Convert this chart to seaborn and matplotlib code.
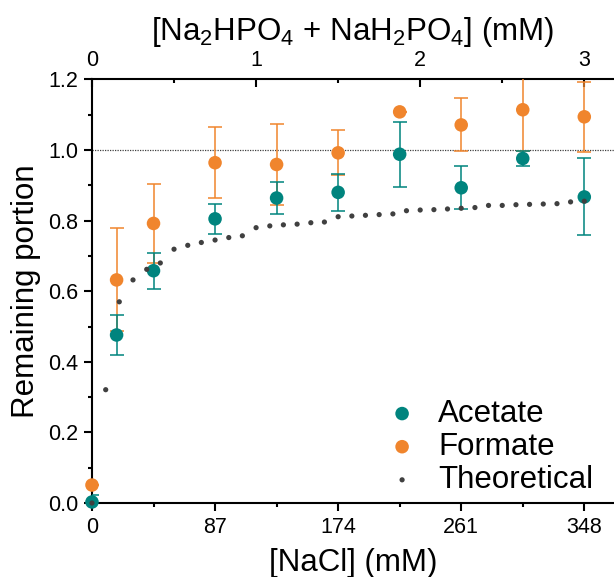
import numpy as np
import pandas as pd
import matplotlib
matplotlib.use("Agg")
import matplotlib.pyplot as plt
import seaborn as sns

# data
nacl = [0, 17.4, 43.5, 87, 130.5, 174, 217.5, 261, 304.5, 348]
acetate = [0.003, 0.476, 0.658, 0.805, 0.864, 0.880, 0.988, 0.893, 0.976, 0.867]
acetate_err = [0.02, 0.057, 0.051, 0.042, 0.044, 0.052, 0.092, 0.061, 0.02, 0.109]
formate = [0.051, 0.632, 0.792, 0.964, 0.959, 0.992, 1.108, 1.071, 1.114, 1.094]
formate_err = [0.0, 0.146, 0.113, 0.10, 0.115, 0.064, 0.0, 0.075, 0.117, 0.10]

theo_nacl = [0, 9.7, 19.3, 29.0, 38.7, 48.3, 58.0, 67.7, 77.3, 87.0, 96.7, 106.3,
             116.0, 125.7, 135.3, 145.0, 154.7, 164.3, 174.0, 183.7, 193.3, 203.0,
             212.7, 222.3, 232.0, 241.7, 251.3, 261.0, 270.7, 280.3, 290.0, 299.7,
             309.3, 319.0, 328.7, 338.3, 348.0]
theo = [0.0, 0.321, 0.570, 0.632, 0.662, 0.680, 0.719, 0.730, 0.738, 0.745,
        0.752, 0.757, 0.780, 0.785, 0.788, 0.790, 0.794, 0.796, 0.811, 0.813,
        0.815, 0.817, 0.819, 0.828, 0.830, 0.831, 0.833, 0.835, 0.837, 0.843,
        0.843, 0.845, 0.846, 0.847, 0.848, 0.853, 0.855]

bottom_ticks = [0, 87, 174, 261, 348]
top_ticks = [0, 1, 2, 3]
NACL_PER_PHOS = 116.0

TEAL = "#00847E"
ORANGE = "#F0852D"
GREY = "#404040"

sns.set_style("ticks")
plt.rcParams["font.family"] = ["Liberation Sans", "DejaVu Sans"]
plt.rcParams["mathtext.default"] = "regular"
plt.rcParams["axes.linewidth"] = 1.5
for key in ["text.color", "axes.labelcolor", "xtick.color", "ytick.color", "axes.edgecolor"]:
    plt.rcParams[key] = "black"

fig = plt.figure(figsize=(6.14, 5.77), dpi=100)
ax = fig.add_axes([0.1498, 0.1282, 0.8502, 0.7342])

df = pd.DataFrame({"nacl": nacl, "acetate": acetate, "formate": formate})
theo_df = pd.DataFrame({"nacl": theo_nacl, "theo": theo})

# reference line
ax.axhline(1.0, color=GREY, lw=0.9, ls=(0, (1, 1)), zorder=1)

# error bars
ax.errorbar(nacl, formate, yerr=formate_err, fmt="none", ecolor=ORANGE,
            elinewidth=1.3, capsize=5, capthick=1.3, alpha=0.85, zorder=2)
ax.errorbar(nacl, acetate, yerr=acetate_err, fmt="none", ecolor=TEAL,
            elinewidth=1.3, capsize=5, capthick=1.3, alpha=0.85, zorder=3)

sns.scatterplot(data=df, x="nacl", y="formate", color=ORANGE, s=95,
                edgecolor="none", label="Formate", clip_on=False, zorder=4, ax=ax)
sns.scatterplot(data=df, x="nacl", y="acetate", color=TEAL, s=95,
                edgecolor="none", label="Acetate", clip_on=False, zorder=5, ax=ax)
sns.scatterplot(data=theo_df, x="nacl", y="theo", color=GREY, s=14,
                edgecolor="none", label="Theoretical", clip_on=False, zorder=6, ax=ax)

ax.set_xlim(0, 369)
ax.set_ylim(0, 1.2)
ax.set_xticks(bottom_ticks)
ax.set_xticks([43.5, 130.5, 217.5, 304.5], minor=True)
ax.set_yticks(np.round(np.arange(0, 1.21, 0.2), 1))
ax.set_yticks(np.round(np.arange(0.1, 1.2, 0.2), 1), minor=True)
ax.yaxis.set_major_formatter(matplotlib.ticker.FormatStrFormatter("%.1f"))
ax.tick_params(which="major", direction="out", length=6, width=1.5, labelsize=15.5, pad=4)
ax.tick_params(which="minor", direction="out", length=3, width=1.5)
ax.set_xlabel("[NaCl] (mM)", fontsize=22.5, labelpad=7)
ax.set_ylabel("Remaining portion", fontsize=22.5, labelpad=5)
ax.spines["right"].set_visible(False)
ax.spines["top"].set_visible(False)

top = ax.secondary_xaxis("top", functions=(lambda x: x / NACL_PER_PHOS,
                                           lambda x: x * NACL_PER_PHOS))
top.set_xticks(top_ticks)
top.set_xticks([0.5, 1.5, 2.5], minor=True)
top.tick_params(which="major", direction="in", length=6, width=1.5, labelsize=15.5, pad=6)
top.tick_params(which="minor", direction="in", length=3, width=1.5)
top.spines["top"].set_linewidth(1.5)
top.set_xlabel(r"[Na$_2$HPO$_4$ + NaH$_2$PO$_4$] (mM)", fontsize=22.5, labelpad=7)

handles, labels = ax.get_legend_handles_labels()
order = [labels.index(n) for n in ["Acetate", "Formate", "Theoretical"]]
ax.legend([handles[i] for i in order], [labels[i] for i in order],
          loc="lower right", bbox_to_anchor=(0.99, -0.018), frameon=False,
          fontsize=22.5, labelspacing=0.1, handletextpad=0.55, borderaxespad=0.1,
          handlelength=1.2)

fig.savefig("out.png", dpi=100)
